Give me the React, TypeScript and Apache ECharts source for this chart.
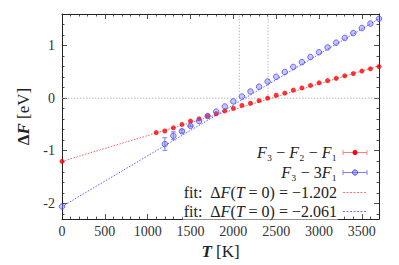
import React, { useEffect, useRef } from "react";
import * as echarts from "echarts";

// ---- data ----
const redT = [0, 1100, 1200, 1300, 1400, 1500, 1600, 1700, 1800, 1900, 2000, 2100, 2200, 2300, 2400, 2500, 2600, 2700, 2800, 2900, 3000, 3100, 3200, 3300, 3400, 3500, 3600, 3700];
const redDF = [-1.202, -0.655, -0.625, -0.564, -0.5, -0.436, -0.394, -0.339, -0.297, -0.242, -0.194, -0.139, -0.097, -0.048, 0.0, 0.055, 0.097, 0.152, 0.194, 0.242, 0.291, 0.333, 0.376, 0.424, 0.467, 0.515, 0.558, 0.6];

const blueT = [0, 1200, 1300, 1400, 1500, 1600, 1700, 1800, 1900, 2000, 2100, 2200, 2300, 2400, 2500, 2600, 2700, 2800, 2900, 3000, 3100, 3200, 3300, 3400, 3500, 3600, 3700];
const blueDF = [-2.061, -0.873, -0.716, -0.63, -0.527, -0.436, -0.34, -0.255, -0.158, -0.061, 0.03, 0.127, 0.218, 0.315, 0.406, 0.497, 0.594, 0.685, 0.782, 0.873, 0.964, 1.055, 1.145, 1.236, 1.333, 1.418, 1.509];
const blueErr = [0, 0.12, 0.075, 0.03, 0.015, 0, 0, 0, 0, 0, 0, 0, 0, 0, 0, 0, 0, 0, 0, 0, 0, 0, 0, 0, 0, 0, 0];

const fitT = [0, 3700];
const fitRed = [-1.202, 0.615];
const fitBlue = [-2.061, 1.51];

const crossT = [2070, 2405];

const xMajorTicks = [0, 500, 1000, 1500, 2000, 2500, 3000, 3500];
const yMajorTicks = [-2, -1, 0, 1];

const X_MIN = 0, X_MAX = 3700, Y_MIN = -2.3, Y_MAX = 1.6;

const legendLabels = [
  "{i|F}₃ − {i|F}₂ − {i|F}₁",
  "{i|F}₃ − 3{i|F}₁",
  "fit:  Δ{i|F}({i|T} = 0) = −1.202",
  "fit:  Δ{i|F}({i|T} = 0) = −2.061",
];

const FONT = "Liberation Serif";
const RED = "#ff0000";
const RED_LIGHT = "#ff8080";
const BLUE = "#4a4aff";
const BLUE_LIGHT = "#8080ff";

function minorTicks(lo: number, hi: number, step: number, majorEvery: number) {
  const out: number[] = [];
  const kLo = Math.ceil(lo / step - 1e-9);
  const kHi = Math.floor(hi / step + 1e-9);
  for (let k = kLo; k <= kHi; k++) {
    if (k % majorEvery === 0) continue;
    out.push(Math.round(k * step * 1000) / 1000);
  }
  return out;
}

export default function App() {
  const ref = useRef<HTMLDivElement>(null);
  useEffect(() => {
    if (!ref.current) return;
    const chart = echarts.init(ref.current, undefined, { renderer: "svg" });

    const xMinor = minorTicks(X_MIN, X_MAX, 100, 5);
    const yMinor = minorTicks(Y_MIN, Y_MAX, 0.2, 5);

    const axisColor = "#222";
    const mkAxis = (kind: "x" | "y", position: string, ticks: number[], len: number, labels: boolean, line: boolean, extra: any = {}) => ({
      type: "value",
      gridIndex: 0,
      position,
      min: kind === "x" ? X_MIN : Y_MIN,
      max: kind === "x" ? X_MAX : Y_MAX,
      axisLine: { show: line, onZero: false, lineStyle: { color: axisColor, width: 1 } },
      axisTick: { show: true, inside: true, length: len, customValues: ticks, lineStyle: { color: axisColor, width: 0.8 } },
      axisLabel: {
        show: labels,
        customValues: ticks,
        margin: kind === "x" ? 5 : 7,
        fontFamily: FONT,
        fontSize: 14,
        color: "#333",
        formatter: (v: number) => String(v),
      },
      splitLine: { show: false },
      ...extra,
    });

    const legX = 338;
    const sampleX0 = 343, sampleX1 = 367;
    const rowsY = [152.5, 172.5, 192.5, 211.5];
    const graphics: any[] = [];
    legendLabels.forEach((lab, i) => {
      graphics.push({
        type: "text",
        x: legX,
        y: rowsY[i],
        z: 100,
        style: {
          text: lab,
          align: "right",
          verticalAlign: "middle",
          fontFamily: FONT,
          fontSize: 16,
          fill: "#222",
          backgroundColor: "#ffffff",
          padding: [0, 1],
          rich: { i: { fontStyle: "italic", fontFamily: FONT, fontSize: 16, fill: "#222" } },
        },
      });
    });
    const errSample = (y: number, col: string) => [
      { type: "line", shape: { x1: sampleX0, y1: y, x2: sampleX1, y2: y }, style: { stroke: col, lineWidth: 1 } },
      { type: "line", shape: { x1: sampleX0, y1: y - 2.5, x2: sampleX0, y2: y + 2.5 }, style: { stroke: col, lineWidth: 1 } },
      { type: "line", shape: { x1: sampleX1, y1: y - 2.5, x2: sampleX1, y2: y + 2.5 }, style: { stroke: col, lineWidth: 1 } },
    ];
    graphics.push(...errSample(rowsY[0], RED_LIGHT));
    graphics.push({ type: "circle", shape: { cx: (sampleX0 + sampleX1) / 2, cy: rowsY[0], r: 2.5 }, style: { fill: RED } });
    graphics.push(...errSample(rowsY[1], BLUE_LIGHT));
    graphics.push({ type: "circle", shape: { cx: (sampleX0 + sampleX1) / 2, cy: rowsY[1], r: 2.6 }, style: { fill: "rgba(110,110,255,0.5)", stroke: BLUE, lineWidth: 1 } });
    graphics.push({ type: "polyline", shape: { points: [[sampleX0, rowsY[2]], [sampleX1, rowsY[2]]] }, style: { stroke: "#ff7070", fill: "none", lineWidth: 1, lineDash: [2, 1.5] } });
    graphics.push({ type: "polyline", shape: { points: [[sampleX0, rowsY[3]], [sampleX1, rowsY[3]]] }, style: { stroke: "#7070ff", fill: "none", lineWidth: 1, lineDash: [2, 1.5] } });

    const errData = blueT
      .map((t, i) => [t, blueDF[i] - blueErr[i], blueDF[i] + blueErr[i], blueErr[i]])
      .filter((d) => d[3] > 0);

    chart.setOption({
      animation: false,
      textStyle: { fontFamily: FONT },
      grid: { left: 62, top: 14, right: 20, bottom: 37, containLabel: false },
      xAxis: [
        mkAxis("x", "bottom", xMajorTicks, 5, true, true, {
          name: "{b|T} [K]",
          nameLocation: "middle",
          nameGap: 19,
          nameTextStyle: {
            fontFamily: FONT,
            fontSize: 17,
            color: "#222",
            rich: { b: { fontFamily: FONT, fontSize: 17, fontWeight: "bold", fontStyle: "italic", color: "#222" } },
          },
        }),
        mkAxis("x", "bottom", xMinor, 2.5, false, false),
        mkAxis("x", "top", xMajorTicks, 5, false, true),
        mkAxis("x", "top", xMinor, 2.5, false, false),
      ],
      yAxis: [
        mkAxis("y", "left", yMajorTicks, 5, true, true, {
          name: "{b|Δ}{bi|F} [eV]",
          nameLocation: "middle",
          nameRotate: 90,
          nameGap: 22,
          nameTextStyle: {
            fontFamily: FONT,
            fontSize: 17,
            color: "#222",
            rich: {
              b: { fontFamily: FONT, fontSize: 17, fontWeight: "bold", color: "#222" },
              bi: { fontFamily: FONT, fontSize: 17, fontWeight: "bold", fontStyle: "italic", color: "#222" },
            },
          },
        }),
        mkAxis("y", "left", yMinor, 2.5, false, false),
        mkAxis("y", "right", yMajorTicks, 5, false, true),
        mkAxis("y", "right", yMinor, 2.5, false, false),
      ],
      graphic: graphics,
      series: [
        {
          type: "line",
          xAxisIndex: 0,
          yAxisIndex: 0,
          data: [[X_MIN, 0], [X_MAX, 0]],
          symbol: "none",
          silent: true,
          lineStyle: { color: "#aaa", width: 0.8, type: [1.5, 1.5] },
          z: 1,
        },
        ...crossT.map((t) => ({
          type: "line",
          xAxisIndex: 0,
          yAxisIndex: 0,
          data: [[t, 0], [t, Y_MAX]],
          symbol: "none",
          silent: true,
          lineStyle: { color: "#aaa", width: 0.8, type: [1.5, 1.5] },
          z: 1,
        })),
        {
          type: "line",
          xAxisIndex: 0,
          yAxisIndex: 0,
          data: fitT.map((t, i) => [t, fitRed[i]]),
          symbol: "none",
          lineStyle: { color: "#ff6060", width: 1, type: [1.5, 1.5] },
          z: 2,
        },
        {
          type: "line",
          xAxisIndex: 0,
          yAxisIndex: 0,
          data: fitT.map((t, i) => [t, fitBlue[i]]),
          symbol: "none",
          lineStyle: { color: "#6060ff", width: 1, type: [1.5, 1.5] },
          z: 2,
        },
        {
          type: "scatter",
          xAxisIndex: 0,
          yAxisIndex: 0,
          data: redT.map((t, i) => [t, redDF[i]]),
          symbol: "circle",
          symbolSize: 5,
          itemStyle: { color: RED },
          clip: false,
          z: 3,
        },
        {
          type: "custom",
          xAxisIndex: 0,
          yAxisIndex: 0,
          data: errData,
          encode: { x: 0, y: [1, 2] },
          clip: false,
          z: 4,
          renderItem: (params: any, api: any) => {
            const t = api.value(0);
            const lo = api.coord([t, api.value(1)]);
            const hi = api.coord([t, api.value(2)]);
            const w = 2.5;
            const st = { stroke: BLUE_LIGHT, lineWidth: 1 };
            return {
              type: "group",
              children: [
                { type: "line", shape: { x1: lo[0], y1: lo[1], x2: hi[0], y2: hi[1] }, style: st },
                { type: "line", shape: { x1: lo[0] - w, y1: lo[1], x2: lo[0] + w, y2: lo[1] }, style: st },
                { type: "line", shape: { x1: hi[0] - w, y1: hi[1], x2: hi[0] + w, y2: hi[1] }, style: st },
              ],
            };
          },
        },
        {
          type: "scatter",
          xAxisIndex: 0,
          yAxisIndex: 0,
          data: blueT.map((t, i) => [t, blueDF[i]]),
          symbol: "circle",
          symbolSize: 5.5,
          itemStyle: { color: "rgba(110,110,255,0.5)", borderColor: BLUE, borderWidth: 1 },
          clip: false,
          z: 5,
        },
      ],
    });
    return () => chart.dispose();
  }, []);
  return <div ref={ref} style={{ position: "absolute", left: 0, top: 0, width: 399, height: 265 }} />;
}
